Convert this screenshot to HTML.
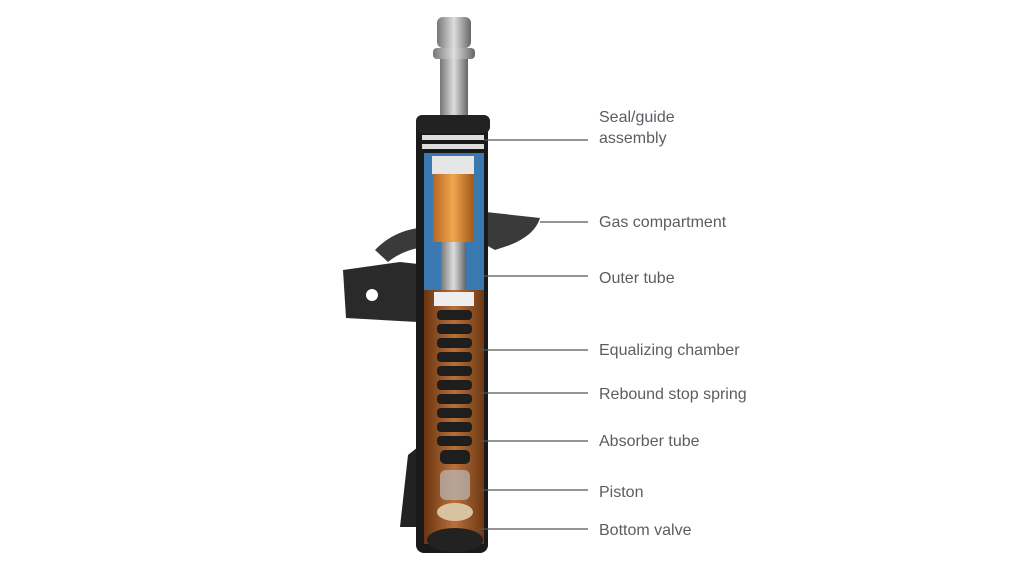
<!DOCTYPE html>
<html><head><style>
body{margin:0;width:1024px;height:576px;background:#fff;overflow:hidden;font-family:"Liberation Sans",sans-serif}
.l{position:absolute;left:599px;font-size:16px;color:#5a5d62;line-height:21px}
</style></head><body>
<svg width="1024" height="576" style="position:absolute;left:0;top:0">
<defs>
<linearGradient id="m" x1="0" x2="1"><stop offset="0" stop-color="#777"/><stop offset=".5" stop-color="#ddd"/><stop offset="1" stop-color="#666"/></linearGradient>
<linearGradient id="cu" x1="0" x2="1"><stop offset="0" stop-color="#b8661c"/><stop offset=".5" stop-color="#f0a650"/><stop offset="1" stop-color="#a55a18"/></linearGradient>
<linearGradient id="br" x1="0" x2="1"><stop offset="0" stop-color="#6a3410"/><stop offset=".5" stop-color="#b8703a"/><stop offset="1" stop-color="#6e3812"/></linearGradient>
</defs>
<!-- bracket -->
<path d="M343 270 L400 262 L418 264 L418 322 L346 318 Z" fill="#2a2a2a"/>
<circle cx="372" cy="295" r="6" fill="#fff"/>
<path d="M375 250 Q392 232 418 228 L418 248 Q400 252 388 262 Z" fill="#3a3a3a"/>
<path d="M486 212 L540 218 Q535 235 510 245 L495 250 L486 245 Z" fill="#3a3a3a"/>
<path d="M408 455 L418 447 L418 527 L400 527 Z" fill="#222"/>
<!-- nut & rod -->
<rect x="440" y="58" width="28" height="58" fill="url(#m)"/>
<rect x="433" y="48" width="42" height="11" rx="4" fill="url(#m)"/>
<rect x="437" y="17" width="34" height="31" rx="6" fill="url(#m)"/>
<!-- outer tube -->
<rect x="416" y="120" width="72" height="433" rx="8" fill="#1a1a1a"/>
<rect x="416" y="115" width="74" height="18" rx="6" fill="#222"/>
<rect x="422" y="135" width="62" height="5" fill="#ddd"/>
<rect x="422" y="144" width="62" height="5" fill="#ddd"/>
<rect x="424" y="153" width="60" height="137" fill="#3a78b0"/>
<rect x="432" y="156" width="42" height="18" fill="#e6e6e6"/>
<rect x="433" y="174" width="40" height="68" fill="url(#cu)"/>
<rect x="441" y="242" width="25" height="52" fill="url(#m)"/>
<rect x="424" y="290" width="60" height="254" fill="url(#br)"/>
<rect x="434" y="292" width="40" height="14" fill="#eee"/>
<g fill="#1e1e1e">
<rect x="437" y="310" width="35" height="10" rx="4"/><rect x="437" y="324" width="35" height="10" rx="4"/>
<rect x="437" y="338" width="35" height="10" rx="4"/><rect x="437" y="352" width="35" height="10" rx="4"/>
<rect x="437" y="366" width="35" height="10" rx="4"/><rect x="437" y="380" width="35" height="10" rx="4"/>
<rect x="437" y="394" width="35" height="10" rx="4"/><rect x="437" y="408" width="35" height="10" rx="4"/>
<rect x="437" y="422" width="35" height="10" rx="4"/><rect x="437" y="436" width="35" height="10" rx="4"/>
<rect x="440" y="450" width="30" height="14" rx="5"/>
</g>
<rect x="440" y="470" width="30" height="30" rx="6" fill="#bbb" opacity=".7"/>
<ellipse cx="455" cy="512" rx="18" ry="9" fill="#d9c2a0"/>
<ellipse cx="455" cy="540" rx="28" ry="12" fill="#222"/>
<g stroke="#555" stroke-width="1.3">
<line x1="484" y1="140" x2="588" y2="140"/>
<line x1="540" y1="222" x2="588" y2="222"/>
<line x1="484" y1="276" x2="588" y2="276"/>
<line x1="478" y1="350" x2="588" y2="350"/>
<line x1="478" y1="393" x2="588" y2="393"/>
<line x1="478" y1="441" x2="588" y2="441"/>
<line x1="478" y1="490" x2="588" y2="490"/>
<line x1="478" y1="529" x2="588" y2="529"/>
</g>
</svg>
<div class="l" style="top:107px">Seal/guide<br>assembly</div>
<div class="l" style="top:212px">Gas compartment</div>
<div class="l" style="top:268px">Outer tube</div>
<div class="l" style="top:340px">Equalizing chamber</div>
<div class="l" style="top:384px">Rebound stop spring</div>
<div class="l" style="top:431px">Absorber tube</div>
<div class="l" style="top:482px">Piston</div>
<div class="l" style="top:520px">Bottom valve</div>
</body></html>
